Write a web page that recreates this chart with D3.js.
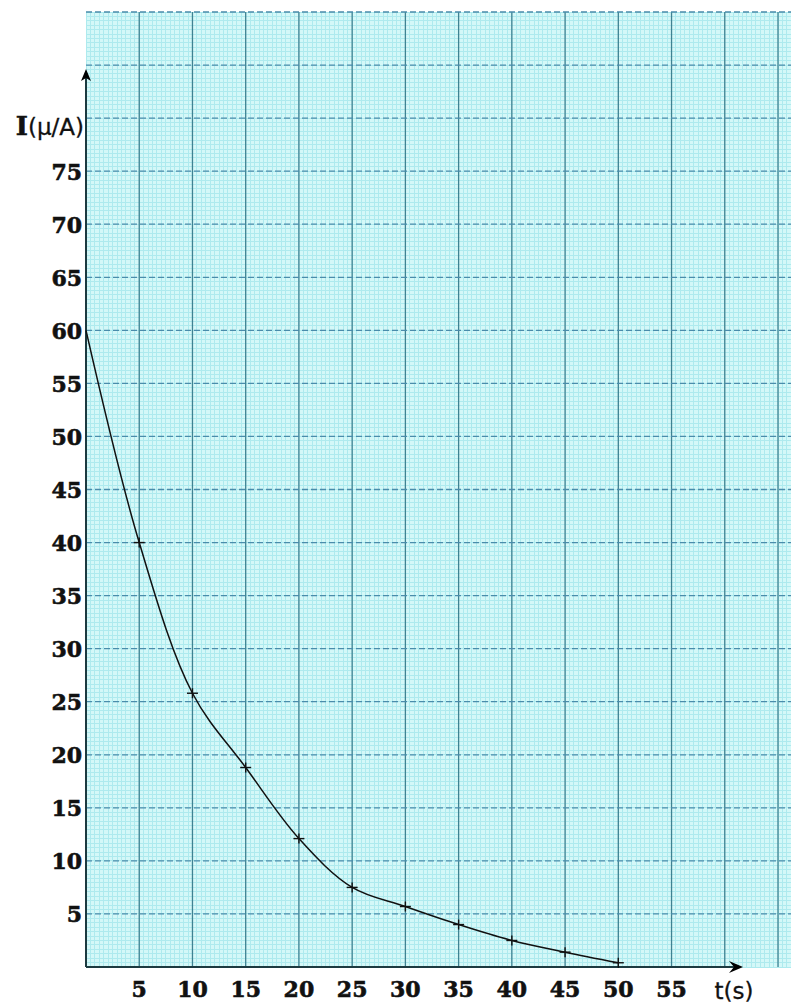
<!DOCTYPE html>
<html>
<head>
<meta charset="utf-8">
<script src="https://cdn.jsdelivr.net/npm/d3@7"></script>
<style>
  html, body { margin: 0; padding: 0; background: #ffffff; }
  svg { display: block; }
</style>
</head>
<body>
<svg id="chart" width="791" height="1005"></svg>
<script>
// ---- data ----
const times = [0, 5, 10, 15, 20, 25, 30, 35, 40, 45, 50];
const current = [60, 40, 25.8, 18.8, 12.1, 7.5, 5.7, 4.0, 2.5, 1.4, 0.4];
const xTickValues = [5, 10, 15, 20, 25, 30, 35, 40, 45, 50, 55];
const yTickValues = [5, 10, 15, 20, 25, 30, 35, 40, 45, 50, 55, 60, 65, 70, 75];
const xAxisTitle = "t(s)";
const yAxisTitleBold = "I";
const yAxisTitleRest = "(μ/A)";

// ---- layout ----
const svg = d3.select("#chart");
const x = d3.scaleLinear().domain([0, 65]).range([86, 778]);
const y = d3.scaleLinear().domain([0, 90]).range([967, 12]);
const gridRight = 791, gridTop = 12;

// background paper
svg.append("rect")
  .attr("x", x(0)).attr("y", gridTop)
  .attr("width", gridRight - x(0)).attr("height", y(0) - gridTop)
  .attr("fill", "#d4f8f8");

// fine grid
const fineStep = 5 / 12;
const gFine = svg.append("g").attr("stroke", "#aeeaee").attr("stroke-width", 1).attr("shape-rendering", "crispEdges");
d3.range(0, 67, fineStep).forEach(v => {
  const px = x(v);
  if (px <= gridRight) gFine.append("line").attr("x1", px).attr("x2", px).attr("y1", gridTop).attr("y2", y(0));
});
d3.range(0, 90.01, fineStep).forEach(v => {
  gFine.append("line").attr("x1", x(0)).attr("x2", gridRight).attr("y1", y(v)).attr("y2", y(v));
});

// major vertical lines (solid)
const gMajV = svg.append("g").attr("stroke", "#3f8292").attr("stroke-width", 1.3);
d3.range(5, 66, 5).forEach(v => {
  gMajV.append("line").attr("x1", x(v)).attr("x2", x(v)).attr("y1", gridTop).attr("y2", y(0));
});
// major horizontal lines (dashed)
const gMajH = svg.append("g").attr("stroke", "#4a8cab").attr("stroke-width", 1.3).attr("stroke-dasharray", "6,3");
d3.range(5, 91, 5).forEach(v => {
  gMajH.append("line").attr("x1", x(0)).attr("x2", gridRight).attr("y1", y(v)).attr("y2", y(v));
});

// axes
const axisColor = "#1c3a40";
svg.append("line").attr("x1", x(0)).attr("x2", x(0)).attr("y1", y(0)).attr("y2", 76)
  .attr("stroke", axisColor).attr("stroke-width", 2);
svg.append("path").attr("d", `M${x(0)},69 L${x(0) - 5},81 L${x(0)},78 L${x(0) + 5},81 Z`).attr("fill", "#000");
svg.append("line").attr("x1", x(0)).attr("x2", 736).attr("y1", y(0)).attr("y2", y(0))
  .attr("stroke", axisColor).attr("stroke-width", 2.2);
svg.append("path").attr("d", `M743,${y(0)} L729,${y(0) - 6} L734,${y(0)} L729,${y(0) + 6} Z`).attr("fill", "#000");

// y tick labels
const numFont = "'DejaVu Serif', serif";
svg.append("g").selectAll("text").data(yTickValues).join("text")
  .attr("x", 82).attr("y", d => y(d) + 8.5)
  .attr("text-anchor", "end")
  .attr("font-family", numFont).attr("font-weight", "bold").attr("font-size", 22)
  .attr("fill", "#111").attr("stroke", "#111").attr("stroke-width", 0.6)
  .text(d => d);

// x tick labels
svg.append("g").selectAll("text").data(xTickValues).join("text")
  .attr("x", d => x(d)).attr("y", 997)
  .attr("text-anchor", "middle")
  .attr("font-family", numFont).attr("font-weight", "bold").attr("font-size", 22)
  .attr("fill", "#111").attr("stroke", "#111").attr("stroke-width", 0.6)
  .text(d => d);

// axis titles
const yt = svg.append("text").attr("x", 84).attr("y", 135).attr("text-anchor", "end").attr("fill", "#111");
yt.append("tspan").attr("font-family", numFont).attr("font-weight", "bold").attr("font-size", 26)
  .attr("stroke", "#111").attr("stroke-width", 0.6).text(yAxisTitleBold);
yt.append("tspan").attr("font-family", "'DejaVu Sans', sans-serif").attr("font-size", 23)
  .attr("stroke", "#111").attr("stroke-width", 0.3).text(yAxisTitleRest);

svg.append("text").attr("x", 734).attr("y", 999).attr("text-anchor", "middle")
  .attr("font-family", "'DejaVu Sans', sans-serif").attr("font-size", 23).attr("fill", "#111")
  .attr("stroke", "#111").attr("stroke-width", 0.3)
  .text(xAxisTitle);

// curve
const pts = times.map((t, i) => [t, current[i]]);
svg.append("path")
  .datum(pts)
  .attr("d", d3.line().x(d => x(d[0])).y(d => y(d[1])).curve(d3.curveCatmullRom.alpha(0.5)))
  .attr("fill", "none").attr("stroke", "#111").attr("stroke-width", 1.5);

// markers
const gm = svg.append("g").attr("stroke", "#111").attr("stroke-width", 1.4);
pts.slice(1).forEach(d => {
  const cx = x(d[0]), cy = y(d[1]);
  gm.append("line").attr("x1", cx - 5.5).attr("x2", cx + 5.5).attr("y1", cy).attr("y2", cy);
  gm.append("line").attr("x1", cx).attr("x2", cx).attr("y1", cy - 5).attr("y2", cy + 5);
});
</script>
</body>
</html>
